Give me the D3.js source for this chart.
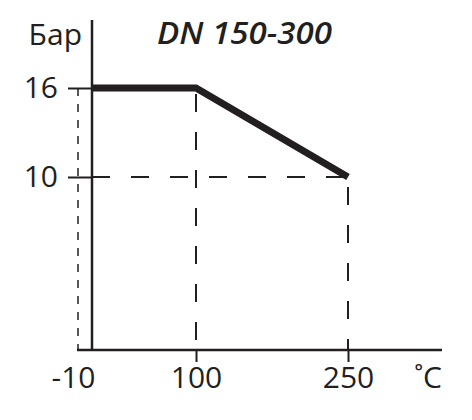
<!doctype html>
<html>
<head>
<meta charset="utf-8">
<style>
  body { margin: 0; background: #fff; }
  text { font-family: "Open Sans", sans-serif; fill: #231f20; }
</style>
</head>
<body>
<div id="container"></div>
<script src="https://d3js.org/d3.v7.min.js"></script>
<script>
    // chart values
    var temps = [-10, 100, 250];        // °C
    var pressures = [16, 16, 10];       // Бар
    var xTicks = [-10, 100, 250];
    var yTicks = [16, 10];
    var title = "DN 150-300";
    var yLabel = "Бар";
    var xLabel = "˚C";

    var width = 472, height = 420;
    var ink = "#231f20";
    var baseY = 350, topY = 20, rightX = 442;

    // schematic (piecewise) scales, as in the drawing
    var x = d3.scaleLinear().domain([-10, 0, 100, 250]).range([78, 92, 196, 348]);
    var y = d3.scaleLinear().domain([10, 16]).range([177, 88]);
    var axisX = x(0);

    var svg = d3.select("#container").append("svg")
        .attr("width", width)
        .attr("height", height);

    // dashed guides
    var guides = svg.append("g").attr("fill", "none").attr("stroke", ink);
    guides.append("line")
        .attr("x1", x(-10)).attr("x2", x(-10))
        .attr("y1", y(16)).attr("y2", baseY)
        .attr("stroke-width", 1.5)
        .attr("stroke-dasharray", "8,8");
    guides.append("line")
        .attr("x1", x(100)).attr("x2", x(100))
        .attr("y1", y(16)).attr("y2", baseY)
        .attr("stroke-width", 2)
        .attr("stroke-dasharray", "18,20")
        .attr("stroke-dashoffset", -6);
    guides.append("line")
        .attr("x1", x(250)).attr("x2", x(250))
        .attr("y1", y(10)).attr("y2", baseY)
        .attr("stroke-width", 2)
        .attr("stroke-dasharray", "18,20")
        .attr("stroke-dashoffset", -10);
    guides.append("line")
        .attr("x1", axisX).attr("x2", x(250))
        .attr("y1", y(10)).attr("y2", y(10))
        .attr("stroke-width", 2)
        .attr("stroke-dasharray", "18,21");

    // axes lines
    svg.append("line")
        .attr("x1", axisX).attr("x2", axisX)
        .attr("y1", topY).attr("y2", baseY + 1)
        .attr("stroke", ink).attr("stroke-width", 2.5);
    svg.append("line")
        .attr("x1", x(-10) - 1).attr("x2", rightX)
        .attr("y1", baseY).attr("y2", baseY)
        .attr("stroke", ink).attr("stroke-width", 2.5);

    var yAxis = svg.append("g")
        .attr("transform", "translate(" + axisX + ",0)")
        .call(d3.axisLeft(y).tickValues(yTicks).tickSize(24).tickPadding(10)
            .tickFormat(d3.format("d")));
    yAxis.select(".domain").remove();
    yAxis.selectAll("line").attr("stroke", ink).attr("stroke-width", 2);
    yAxis.selectAll("text")
        .style("font-family", "'Open Sans', sans-serif")
        .style("font-size", "30px")
        .attr("fill", ink);

    var xAxis = svg.append("g")
        .attr("transform", "translate(0," + baseY + ")")
        .call(d3.axisBottom(x).tickValues(xTicks).tickSize(12).tickPadding(5)
            .tickFormat(d3.format("d")));
    xAxis.select(".domain").remove();
    xAxis.selectAll("line")
        .attr("stroke", ink).attr("stroke-width", 2)
        .attr("y2", function (d) { return d === -10 ? 0 : 12; });
    xAxis.selectAll("text")
        .style("font-family", "'Open Sans', sans-serif")
        .style("font-size", "30px")
        .attr("fill", ink)
        .attr("dx", function (d) { return d === -10 ? -5 : 0; })
        .text(function (d) { return d < 0 ? "-" + Math.abs(d) : d; });

    // curve
    svg.append("clipPath").attr("id", "plotclip")
        .append("rect")
        .attr("x", axisX).attr("y", 0)
        .attr("width", width - axisX).attr("height", height);

    var line = d3.line()
        .x(function (d) { return x(d[0]); })
        .y(function (d) { return y(d[1]); });

    svg.append("path")
        .datum(d3.zip(temps, pressures))
        .attr("clip-path", "url(#plotclip)")
        .attr("d", line)
        .attr("fill", "none")
        .attr("stroke", ink)
        .attr("stroke-width", 7)
        .attr("stroke-linejoin", "miter");

    // labels
    svg.append("text")
        .attr("x", 82).attr("y", 45)
        .attr("text-anchor", "end")
        .style("font-size", "30px")
        .text(yLabel);

    svg.append("text")
        .attr("x", 157).attr("y", 44)
        .attr("textLength", 175)
        .attr("lengthAdjust", "spacingAndGlyphs")
        .style("font-size", "30px")
        .style("font-weight", "600")
        .style("font-style", "italic")
        .text(title);

    svg.append("text")
        .attr("x", rightX).attr("y", 388)
        .attr("text-anchor", "end")
        .style("font-size", "30px")
        .text(xLabel);
</script>
</body>
</html>
